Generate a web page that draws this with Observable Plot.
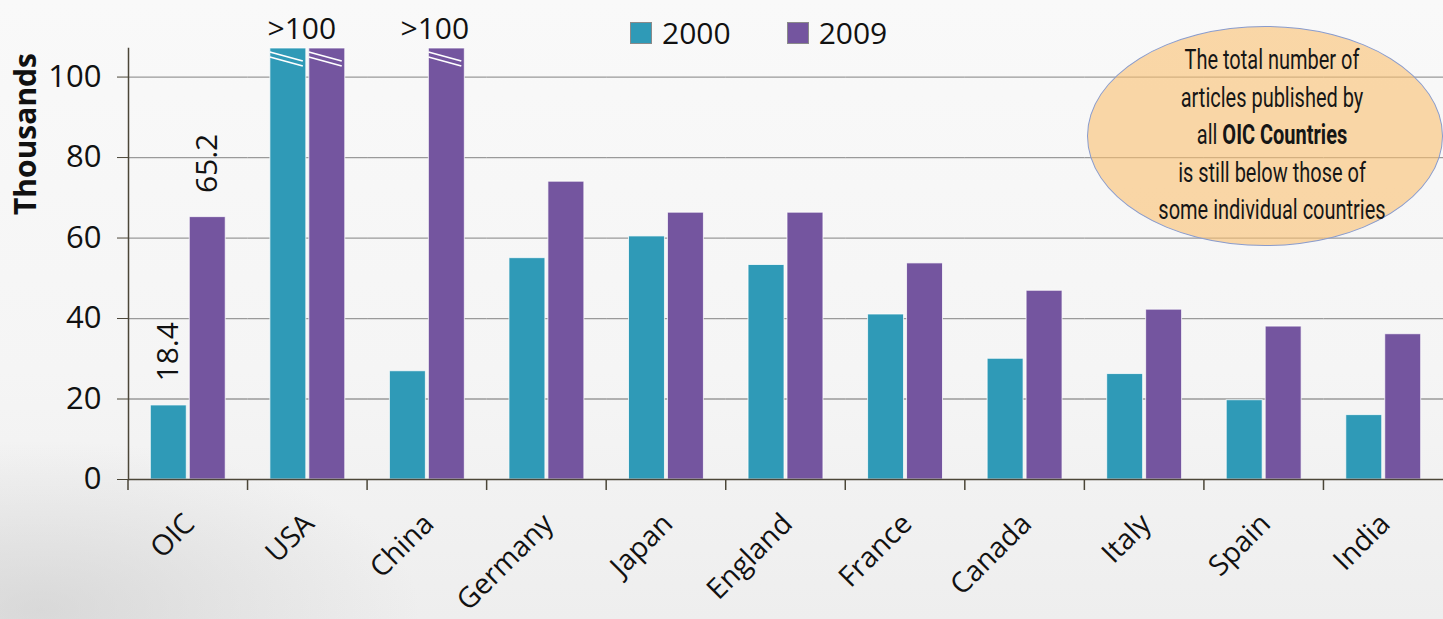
<!DOCTYPE html>
<html>
<head>
<meta charset="utf-8">
<script src="https://cdn.jsdelivr.net/npm/d3@7"></script>
<script src="https://cdn.jsdelivr.net/npm/@observablehq/plot@0.6"></script>
<style>
  html, body { margin: 0; padding: 0; }
  #wrap {
    position: relative; width: 1443px; height: 619px; overflow: hidden;
    background:
      radial-gradient(ellipse 380px 170px at 40px 610px, rgba(195,195,195,0.5), rgba(195,195,195,0) 100%),
      linear-gradient(to bottom, #f9f9f9 0%, #f5f5f5 60%, #eeeeee 100%);
    font-family: "Open Sans", "DejaVu Sans", sans-serif;
    color: #111;
  }
  #chart { position: absolute; left: 0; top: 0; }
  .ylab {
    position: absolute; left: 24px; top: 134px;
    transform: translate(-50%, -50%) rotate(-90deg);
    font-weight: 700; font-size: 30px; white-space: nowrap; color: #111;
  }
  .legend { position: absolute; top: 12px; left: 630px; display: flex; align-items: center; font-size: 30px; }
  .legend .item { display: flex; align-items: center; margin-right: 56px; }
  .legend .sw { width: 22px; height: 22px; border: 1px solid #8a8a8a; margin-right: 10px; box-sizing: border-box; }
  .note {
    position: absolute; left: 1087px; top: 26px; width: 356px; height: 220px;
    border-radius: 50%; box-sizing: border-box;
    background: rgba(250, 192, 112, 0.6);
    border: 1.5px solid #8a9ccd;
  }
  .note-text {
    position: absolute; left: 1272px; top: 42px; transform: translateX(-50%) scaleX(0.74);
    text-align: center; white-space: nowrap;
    font-family: "Roboto", "DejaVu Sans", sans-serif;
    font-size: 27px; line-height: 37.5px; color: #161616;
  }
</style>
</head>
<body>
<div id="wrap">
  <div id="chart"></div>
  <div class="ylab">Thousands</div>
  <div class="legend" id="legend"></div>
  <div class="note"></div>
  <div class="note-text">The total number of<br>articles published by<br>all <b>OIC Countries</b><br>is still below those of<br>some individual countries</div>
</div>
<script>
// ---- data (thousands of articles); null = off the scale (shown as ">100") ----
const countries = ["OIC", "USA", "China", "Germany", "Japan", "England", "France", "Canada", "Italy", "Spain", "India"];
const years = ["2000", "2009"];
const articles2000 = [18.4, null, 26.9, 55.0, 60.4, 53.3, 41.0, 30.0, 26.2, 19.7, 16.0];
const articles2009 = [65.2, null, null, 74.0, 66.3, 66.3, 53.7, 46.9, 42.2, 38.0, 36.1];
const labeledCountries = ["OIC"];
const overLabel = ">100";
const yTicks = [0, 20, 40, 60, 80, 100];
const yTop = 107.1;
const colors = ["#2f9ab7", "#74559f"];

// ---- table built from the arrays ----
const series = [articles2000, articles2009];
const rows = [];
countries.forEach((c, i) => years.forEach((yr, j) => {
  const v = series[j][i];
  rows.push({country: c, year: yr, value: v == null ? yTop : v, over: v == null, raw: v});
}));
const valueRows = rows.filter(d => labeledCountries.includes(d.country) && !d.over);
const groupOver = countries.filter(c => rows.filter(d => d.country === c).every(d => d.over));
const barOver = rows.filter(d => d.over && !groupOver.includes(d.country));

const axisColor = "#4b4638";

const plot = Plot.plot({
  width: 1443, height: 619,
  marginTop: 48, marginBottom: 140, marginLeft: 128, marginRight: 0,
  style: {background: "transparent", fontFamily: "'Open Sans', 'DejaVu Sans', sans-serif", color: "#111", overflow: "visible"},
  fx: {domain: countries, padding: 0, axis: null, round: false},
  x: {domain: years, paddingInner: 0.077, paddingOuter: 0.573, axis: null, round: false},
  y: {domain: [0, yTop], axis: null},
  color: {domain: years, range: colors},
  marks: [
    Plot.gridY(yTicks.slice(1), {stroke: "#9a9a9a", strokeOpacity: 1, strokeWidth: 1.3}),
    Plot.barY(rows, {fx: "country", x: "year", y: "value", fill: "year", stroke: "#ffffff", strokeOpacity: 0.75, strokeWidth: 1}),
    Plot.ruleY([0], {stroke: axisColor, strokeWidth: 1.5}),
    Plot.frame({anchor: "left", facetAnchor: "left", stroke: axisColor, strokeWidth: 1.5}),
    Plot.axisY({ticks: yTicks, tickSize: 11, tickPadding: 16, fontSize: 31, stroke: axisColor, label: null}),
    Plot.text(countries, {fx: d => d, text: d => d, frameAnchor: "bottom", rotate: -45, textAnchor: "end", lineAnchor: "bottom", dx: 8, dy: 46, fontSize: 28.5, fill: "#111"}),
    Plot.text(valueRows, {fx: "country", x: "year", y: "value", text: d => d.raw.toFixed(1), rotate: -90, textAnchor: "start", lineAnchor: "middle", dy: -24, fontSize: 30, fill: "#111"}),
    Plot.text(groupOver, {fx: d => d, text: () => overLabel, frameAnchor: "top", lineAnchor: "bottom", dx: -6, dy: -10, fontSize: 30, fill: "#111"}),
    Plot.text(barOver, {fx: "country", x: "year", text: () => overLabel, frameAnchor: "top", lineAnchor: "bottom", dx: -12, dy: -10, fontSize: 30, fill: "#111"})
  ]
});

document.getElementById("chart").appendChild(plot);

// category boundary ticks and axis breaks, positioned via Plot's scales
const svg = d3.select(plot.tagName.toLowerCase() === "svg" ? plot : plot.querySelector("svg"));
const fx = plot.scale("fx"), xs = plot.scale("x"), ys = plot.scale("y");
const y0 = ys.apply(0), yT = ys.apply(yTop);
const g = svg.append("g");
countries.forEach(c => {
  const xb = fx.apply(c);
  g.append("line").attr("x1", xb).attr("x2", xb).attr("y1", y0).attr("y2", y0 + 11)
    .attr("stroke", axisColor).attr("stroke-width", 1.5);
});
rows.filter(d => d.over).forEach(d => {
  const x0 = fx.apply(d.country) + (xs.apply(d.year) - xs.range[0]);
  const bw = xs.bandwidth;
  [0, 5].forEach(off => {
    g.append("line")
      .attr("x1", x0).attr("y1", yT + 4 + off)
      .attr("x2", x0 + bw - 3).attr("y2", yT + 13 + off)
      .attr("stroke", "#ffffff").attr("stroke-width", 1.8);
  });
});

// legend
const legend = d3.select("#legend");
years.forEach((yr, i) => {
  const it = legend.append("div").attr("class", "item");
  it.append("div").attr("class", "sw").style("background", colors[i]);
  it.append("span").text(yr);
});
</script>
</body>
</html>
